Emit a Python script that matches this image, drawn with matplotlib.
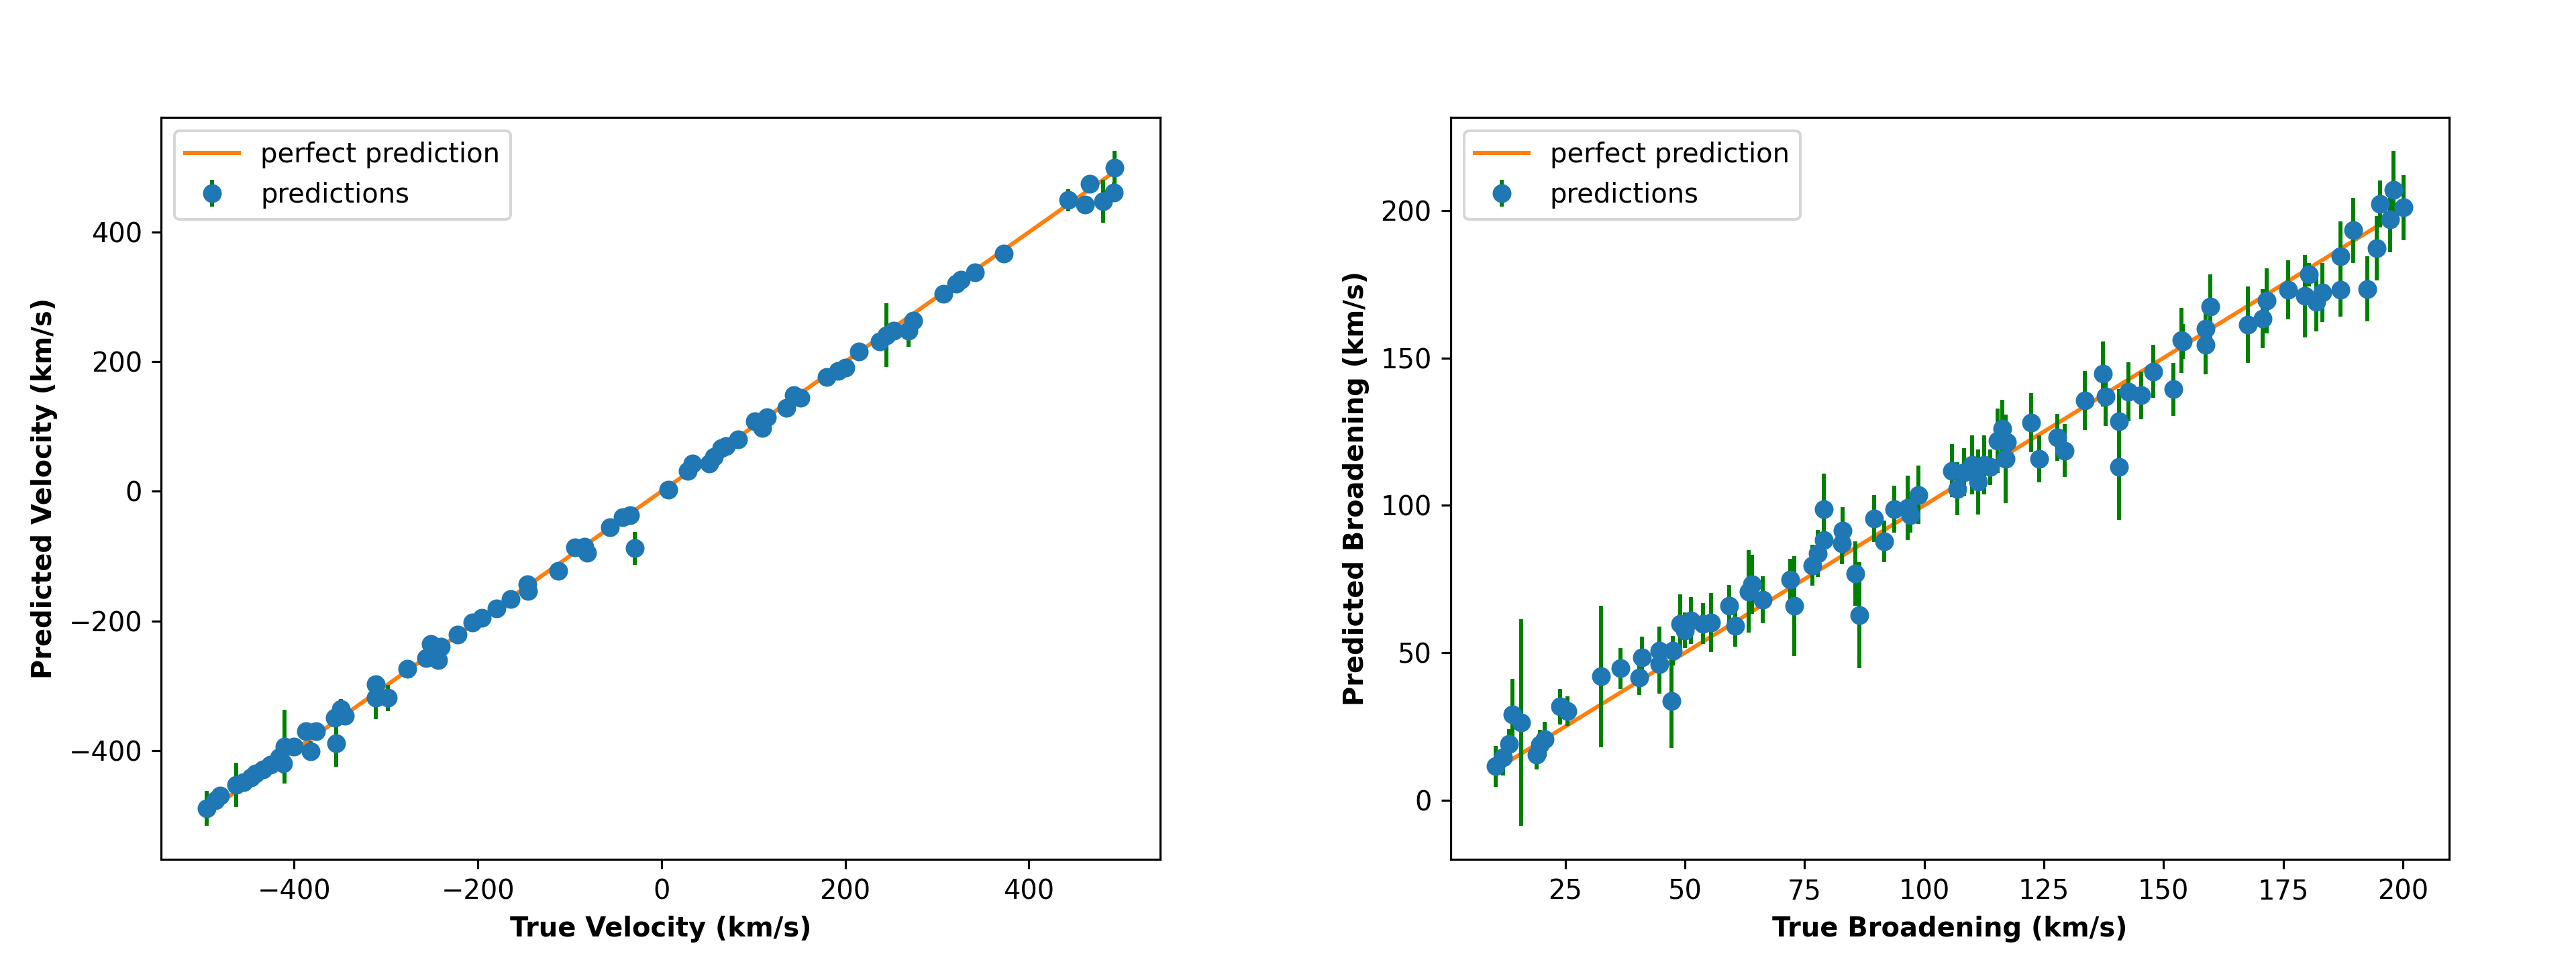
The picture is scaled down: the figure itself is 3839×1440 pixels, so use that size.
import numpy as np
import matplotlib
matplotlib.use("Agg")
import matplotlib.pyplot as plt

# ---- Velocity panel data ----
vel_true = [-495.5, -486, -481, -463, -455, -447, -442, -434, -426, -416,
            -410.5, -412, -400, -387, -376, -382, -354, -355.5, -345, -349,
            -311, -311, -298, -277, -256, -251, -243, -240, -222, -206,
            -196, -180, -164, -146, -145, -112.7, -94.4, -81.3, -84, -56.5,
            -42, -34, -29, 7.6, 28.5, 34, 52, 57.3, 65, 70.4,
            83.5, 102, 110, 115, 136, 143.7, 151.5, 179.5, 192, 200,
            215, 237.5, 245, 252.7, 269, 274, 307, 321, 326, 341,
            372.5, 443, 461, 466, 481, 492.4, 493.6]
vel_pred = [-489, -477, -470, -453, -449, -442, -436, -429, -422, -411,
            -394, -420, -394, -370, -370, -401, -389, -350, -346, -336,
            -298, -318, -319, -274, -257, -236, -260, -240, -221, -203,
            -195, -181, -166, -143, -154, -122.6, -86.5, -95, -85, -55.5,
            -40, -36.6, -88, 3, 32, 42.5, 42.5, 52.8, 66.6, 70,
            80.4, 108, 97.6, 114.8, 128.5, 149, 144, 176, 186, 191.4,
            215.5, 231, 241, 248, 248, 263.7, 305, 320.4, 327, 337.6,
            367, 449.4, 442.6, 475, 447.7, 461.5, 499]
vel_err = [27, 10, 10, 34, 10, 10, 10, 10, 12, 10,
           57, 15, 10, 10, 10, 15, 36, 10, 10, 15,
           8, 34, 20, 8, 8, 8, 8, 8, 8, 8,
           8, 8, 8, 8, 8, 8, 8, 8, 8, 8,
           8, 8, 25, 8, 8, 8, 12, 8, 8, 8,
           8, 8, 8, 8, 8, 8, 8, 8, 8, 8,
           8, 8, 49, 8, 25, 8, 8, 8, 8, 8,
           8, 17, 8, 8, 33, 15, 26]

# ---- Broadening panel data ----
brd_true = [10.5, 12, 13.25, 14, 15.75, 19, 20.75, 19.75, 24, 25.5,
            32.5, 36.5, 40.5, 41, 44.75, 44.75, 47.25, 47.5, 49, 50,
            51.25, 53.75, 55.5, 59.25, 60.5, 63.3, 64, 66.3,
            72, 72.8, 76.6, 77.8, 79, 79, 83, 82.8, 85.6, 86.5,
            89.6, 91.6, 93.8, 96.6, 97.1, 98.8, 105.8, 107, 108.3, 110,
            111.3, 112.6, 113.8, 115.3, 116.3, 117, 117.3, 122.3, 124, 127.8,
            129.3, 133.6,
            137.4, 137.9, 140.7, 140.7, 142.7, 145.3, 147.8, 152.1, 153.7, 154,
            158.8, 158.8, 159.8, 167.7, 170.7, 171.5, 176, 179.6, 180.4, 181.9,
            183.2, 187, 187, 189.6, 192.6, 194.6, 195.2, 197.4, 198, 200.2]
brd_pred = [11.5, 14.5, 19.2, 29.1, 26.4, 15.4, 20.7, 18.8, 31.8, 30.2,
            42, 44.7, 41.6, 48.5, 50.8, 46.2, 33.7, 50.8, 59.9, 57.6,
            61, 59.9, 60.3, 66, 59.1, 70.8, 73.2, 68,
            74.8, 65.9, 79.7, 83.7, 88.2, 98.7, 91.5, 87, 76.9, 62.7,
            95.5, 87.8, 98.7, 99.2, 96.7, 103.6, 111.7, 105.6, 111.3, 113.8,
            108, 113.8, 113, 121.9, 125.9, 115.8, 121.5, 128, 115.8, 123.1,
            118.6, 135.5,
            144.6, 136.9, 128.4, 113, 138.5, 137.3, 145.4, 139.4, 156, 155.6,
            154.4, 160, 167.3, 161.3, 163.3, 169.4, 173, 171, 178.3, 169,
            172.2, 184.4, 173, 193.3, 173.4, 187.2, 202.2, 196.9, 207.1, 201]
brd_err = [7, 6, 5, 12, 35, 5, 6, 5, 6, 5,
           24, 7, 6, 7, 8, 10, 16, 5, 10, 6,
           8, 7, 10, 7, 7, 14, 10, 8,
           7, 17, 7, 8, 6, 12, 8, 7, 11, 18,
           8, 7, 8, 11, 6, 10, 9, 9, 8, 10,
           11, 10, 6, 11, 10, 15, 6, 10, 8, 8,
           9, 10,
           11, 10, 11, 18, 10, 8, 9, 9, 11, 6,
           10, 6, 11, 13, 10, 11, 10, 14, 4, 10,
           10, 12, 9, 11, 11, 11, 8, 11, 13, 11]

panels = [
    (vel_true, vel_pred, vel_err, "True Velocity (km/s)", "Predicted Velocity (km/s)"),
    (brd_true, brd_pred, brd_err, "True Broadening (km/s)", "Predicted Broadening (km/s)"),
]

fig = plt.figure(figsize=(13.3333, 5), dpi=288)
rects = [[0.0625, 0.1104, 0.3878, 0.768], [0.5629, 0.1104, 0.3876, 0.768]]

for rect, (xt, yp, ye, xl, yl) in zip(rects, panels):
    ax = fig.add_axes(rect)
    xt = np.asarray(xt, float)
    lo, hi = xt.min(), xt.max()
    ax.plot([lo, hi], [lo, hi], color="C1", label="perfect prediction", zorder=1)
    ax.errorbar(xt, yp, yerr=ye, fmt="o", color="C0", ecolor="green",
                label="predictions", zorder=2)
    ax.set_xlabel(xl, fontweight="bold")
    ax.set_ylabel(yl, fontweight="bold")
    ax.legend(loc="upper left")

fig.savefig("out.png", dpi=288)
